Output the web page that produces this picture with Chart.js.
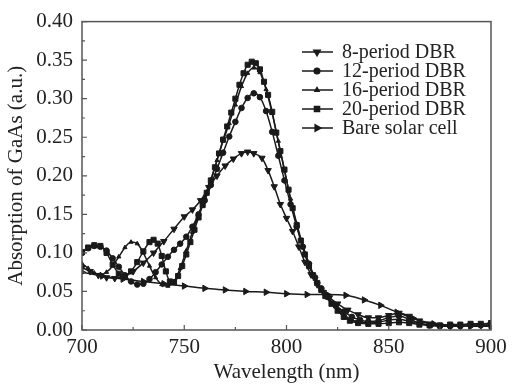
<!DOCTYPE html>
<html>
<head>
<meta charset="utf-8">
<script src="https://cdn.jsdelivr.net/npm/chart.js@4.4.0/dist/chart.umd.min.js"></script>
<style>
  html, body { margin: 0; padding: 0; background: #fff; }
  #wrap { width: 513px; height: 389px; }
</style>
</head>
<body>
<div id="wrap"><canvas id="chart"></canvas></div>
<script>
// DATA
const wl8 = [700,704,708,712,716,720,725,730,735,740,745,750,754,758,762,766,770,774,778,781,784,788,791,794,797,800,803,806,809,812,815,818,821,825,830,835,840,845,850,855,860,865,870,875,880,885,890,895,900];
const abs8 = [0.081,0.076,0.071,0.068,0.067,0.069,0.076,0.087,0.100,0.115,0.131,0.147,0.156,0.168,0.185,0.200,0.213,0.222,0.229,0.231,0.229,0.223,0.207,0.186,0.163,0.145,0.128,0.108,0.088,0.072,0.059,0.049,0.042,0.034,0.026,0.020,0.016,0.016,0.019,0.022,0.018,0.012,0.008,0.006,0.005,0.005,0.006,0.006,0.007];

const wl12 = [700,703,706,709,712,715,718,721,724,727,730,733,736,739,742,745,748,751,754,757,760,763,766,769,772,775,778,781,784,787,790,793,796,799,802,805,808,811,814,817,820,824,828,832,836,840,845,850,855,860,865,870,875,880,885,890,895,900];
const abs12 = [0.100,0.106,0.109,0.108,0.103,0.093,0.082,0.071,0.063,0.059,0.060,0.066,0.075,0.085,0.095,0.104,0.112,0.121,0.134,0.150,0.168,0.188,0.209,0.230,0.251,0.270,0.288,0.301,0.307,0.302,0.284,0.257,0.226,0.194,0.163,0.134,0.108,0.086,0.068,0.054,0.043,0.032,0.024,0.017,0.013,0.011,0.012,0.016,0.018,0.014,0.009,0.006,0.005,0.005,0.005,0.006,0.006,0.006];

const wl16 = [700,703,706,709,712,715,718,721,724,727,730,733,736,739,742,745,748,751,754,757,760,763,766,769,772,775,778,781,784,787,790,793,796,799,802,805,808,811,814,817,820,824,828,832,836,840,845,850,855,860,865,870,875,880,885,890,895,900];
const abs16 = [0.086,0.080,0.074,0.072,0.075,0.083,0.095,0.107,0.114,0.112,0.100,0.083,0.068,0.059,0.057,0.063,0.080,0.103,0.127,0.150,0.172,0.195,0.220,0.245,0.268,0.292,0.316,0.333,0.340,0.334,0.312,0.281,0.245,0.207,0.170,0.138,0.110,0.086,0.066,0.052,0.042,0.030,0.020,0.013,0.010,0.009,0.010,0.013,0.014,0.011,0.008,0.006,0.005,0.005,0.006,0.006,0.006,0.006];

const wl20 = [700,703,706,709,712,715,718,721,724,727,730,733,735,737,739,741,743,745,747,749,751,753,755,757,759,761,763,765,767,769,771,773,775,777,779,781,783,785,787,789,791,793,795,797,799,801,803,805,807,809,811,813,815,817,819,822,825,828,831,835,840,845,850,855,860,865,870,875,880,885,890,895,900];
const abs20 = [0.101,0.107,0.110,0.109,0.100,0.085,0.073,0.070,0.076,0.088,0.102,0.114,0.117,0.112,0.096,0.076,0.063,0.062,0.070,0.083,0.098,0.114,0.130,0.146,0.162,0.178,0.194,0.211,0.229,0.247,0.264,0.282,0.300,0.318,0.333,0.344,0.348,0.346,0.338,0.322,0.305,0.283,0.256,0.232,0.208,0.182,0.158,0.136,0.116,0.098,0.083,0.071,0.061,0.052,0.044,0.034,0.025,0.017,0.012,0.009,0.008,0.008,0.009,0.010,0.009,0.007,0.006,0.006,0.007,0.007,0.008,0.008,0.009];

const wlBare = [700,710,720,730,740,750,760,770,780,790,800,810,820,829,838,846,854,862,872,881,890,900];
const absBare = [0.075,0.070,0.066,0.063,0.060,0.057,0.054,0.052,0.050,0.049,0.047,0.046,0.046,0.045,0.039,0.032,0.023,0.015,0.008,0.006,0.005,0.005];

const xMinorTicks = [725, 775, 825, 875];
const yMinorTicks = [0.025, 0.075, 0.125, 0.175, 0.225, 0.275, 0.325, 0.375];

const FONT = "'Liberation Serif', 'Times New Roman', serif";
const INK = "#1a1a1a";

function toPoints(xs, ys) {
   return xs.map((x, i) => ({ x: x, y: ys[i] }));
}

function series(label, xs, ys, style, radius, rotation) {
   return {
      label: label,
      data: toPoints(xs, ys),
      borderColor: INK,
      backgroundColor: INK,
      borderWidth: 1.5,
      pointStyle: style,
      pointRadius: radius,
      pointRotation: rotation || 0,
      pointBorderWidth: 1,
      pointBackgroundColor: INK,
      pointBorderColor: INK,
      cubicInterpolationMode: "monotone",
      fill: false,
   };
}

// frame + inward ticks
const framePlugin = {
   id: "frame",
   afterDraw(chart) {
      const ctx = chart.ctx;
      const a = chart.chartArea;
      const xs = chart.scales.x;
      const ys = chart.scales.y;
      ctx.save();
      ctx.strokeStyle = "#555";
      ctx.lineWidth = 1.5;
      ctx.strokeRect(a.left, a.top, a.right - a.left, a.bottom - a.top);
      ctx.lineWidth = 1.2;
      ctx.beginPath();
      xs.ticks.forEach((t) => {
         const px = xs.getPixelForValue(t.value);
         ctx.moveTo(px, a.bottom);
         ctx.lineTo(px, a.bottom - 5);
      });
      xMinorTicks.forEach((v) => {
         const px = xs.getPixelForValue(v);
         ctx.moveTo(px, a.bottom);
         ctx.lineTo(px, a.bottom - 3);
      });
      ys.ticks.forEach((t) => {
         const py = ys.getPixelForValue(t.value);
         ctx.moveTo(a.left, py);
         ctx.lineTo(a.left + 5, py);
      });
      yMinorTicks.forEach((v) => {
         const py = ys.getPixelForValue(v);
         ctx.moveTo(a.left, py);
         ctx.lineTo(a.left + 3, py);
      });
      ctx.stroke();
      ctx.restore();
   },
};

// legend drawn inside the plot, top right
const insideLegend = {
   id: "insideLegend",
   afterDatasetsDraw(chart) {
      const ctx = chart.ctx;
      ctx.save();
      ctx.font = "20px " + FONT;
      ctx.textBaseline = "middle";
      chart.data.datasets.forEach((ds, i) => {
         const y = 52 + i * 19;
         ctx.strokeStyle = INK;
         ctx.lineWidth = 1.5;
         ctx.beginPath();
         ctx.moveTo(302, y);
         ctx.lineTo(333, y);
         ctx.stroke();
         ctx.fillStyle = INK;
         Chart.helpers.drawPoint(
            ctx,
            {
               pointStyle: ds.pointStyle,
               rotation: ds.pointRotation,
               radius: ds.pointRadius,
               borderWidth: 1,
            },
            317,
            y
         );
         ctx.fillStyle = "#222";
         ctx.fillText(ds.label, 342, y + 1);
      });
      ctx.restore();
   },
};

var ctx1 = document.getElementById("chart").getContext("2d");
window.chart1 = new Chart(ctx1, {
   type: "line",
   data: {
      datasets: [
         series("8-period DBR", wl8, abs8, "triangle", 3.7, 180),
         series("12-period DBR", wl12, abs12, "circle", 2.8),
         series("16-period DBR", wl16, abs16, "triangle", 2.4),
         series("20-period DBR", wl20, abs20, "rect", 3.6),
         series("Bare solar cell", wlBare, absBare, "triangle", 3.7, 90),
      ],
   },
   options: {
      responsive: true,
      maintainAspectRatio: false,
      animation: false,
      devicePixelRatio: 1,
      layout: { padding: { top: 14, right: 22, left: 0, bottom: 0 } },
      plugins: {
         legend: { display: false },
         tooltip: { enabled: false },
      },
      scales: {
         x: {
            type: "linear",
            min: 700,
            max: 900,
            grid: { display: false, drawTicks: false },
            border: { display: false },
            ticks: {
               stepSize: 50,
               padding: 5,
               color: "#222",
               font: { family: FONT, size: 21 },
            },
            title: {
               display: true,
               text: "Wavelength (nm)",
               color: "#222",
               font: { family: FONT, size: 21 },
               padding: { top: 0, bottom: 4 },
            },
            afterFit: (s) => { s.height = 59; },
         },
         y: {
            min: 0,
            max: 0.4,
            grid: { display: false, drawTicks: false },
            border: { display: false },
            ticks: {
               stepSize: 0.05,
               padding: 9,
               color: "#222",
               font: { family: FONT, size: 21 },
               callback: (v) => v.toFixed(2),
            },
            title: {
               display: true,
               text: "Absorption of GaAs (a.u.)",
               color: "#222",
               font: { family: FONT, size: 21 },
               padding: { top: 4, bottom: 0 },
            },
            afterFit: (s) => { s.width = 82; },
         },
      },
   },
   plugins: [framePlugin, insideLegend],
});
</script>
</body>
</html>
